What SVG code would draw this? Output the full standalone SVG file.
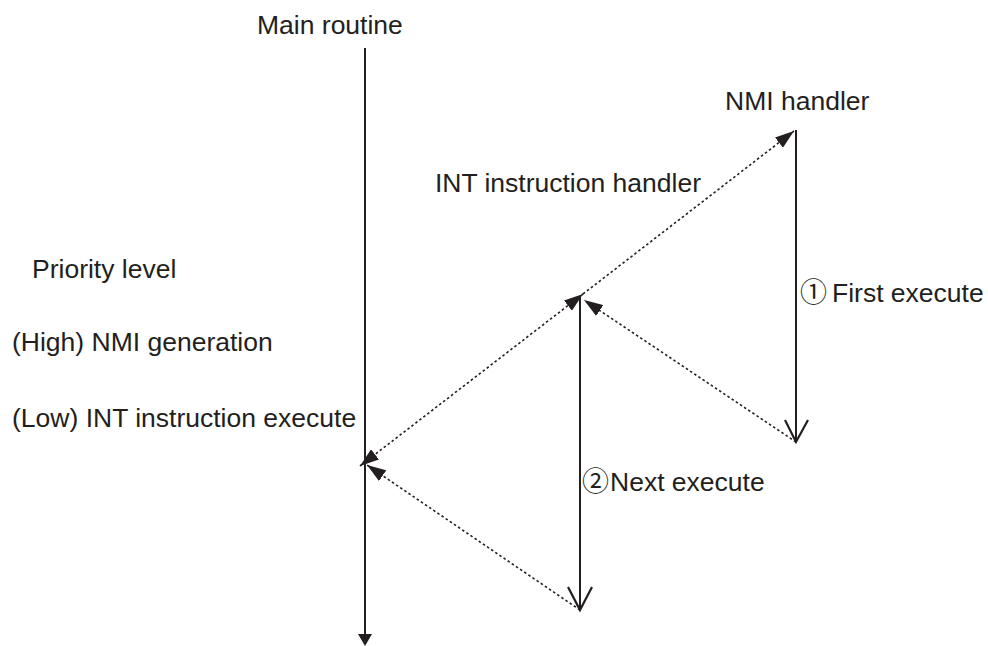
<svg xmlns="http://www.w3.org/2000/svg" width="988" height="646" viewBox="0 0 988 646">
<style>
text{font-family:"Liberation Sans","DejaVu Sans","Noto Sans CJK JP",sans-serif;font-size:26.5px;fill:#231f20}
.cd{font-family:"Noto Sans CJK JP","DejaVu Sans",sans-serif;font-size:27px}
.solid{stroke:#231f20;stroke-width:2;fill:none}
.dot{stroke:#231f20;stroke-width:1.6;fill:none;stroke-dasharray:2.5 2.5}
.vhead{stroke:#231f20;stroke-width:2.2;fill:none;stroke-linejoin:miter}
</style>
<defs>
<marker id="ah" viewBox="0 0 19 13" refX="19" refY="6.5" markerWidth="19" markerHeight="13" markerUnits="userSpaceOnUse" orient="auto-start-reverse">
<path d="M0,0 L19,6.5 L0,13 z" fill="#231f20"/>
</marker>
</defs>
<rect width="988" height="646" fill="#fff"/>
<g id="labels">
<text x="32" y="278">Priority level</text>
<text x="12" y="351">(High) NMI generation</text>
<text x="12" y="427">(Low) INT instruction execute</text>
</g>
<g id="main-routine">
<text x="257" y="34">Main routine</text>
<line class="solid" x1="365" y1="48" x2="365" y2="636" stroke-width="1.6"/>
<path d="M358,634 L372,634 L365,646 z" fill="#231f20"/>
</g>
<g id="int-handler">
<text x="701" y="192" text-anchor="end">INT instruction handler</text>
<line class="solid" x1="580" y1="296" x2="580" y2="610" stroke-width="2.4"/>
<path class="vhead" d="M568,587 L580,610 L592,587"/>
<text y="491"><tspan class="cd" x="582">②</tspan><tspan x="610">Next execute</tspan></text>
</g>
<g id="nmi-handler">
<text x="725" y="110">NMI handler</text>
<line class="solid" x1="796" y1="130" x2="796" y2="442" stroke-width="2.4"/>
<path class="vhead" d="M785,420 L796,442 L808,420"/>
<text y="302"><tspan class="cd" x="800">①</tspan><tspan x="832">First execute</tspan></text>
</g>
<g id="connectors">
<line class="dot" x1="360" y1="466" x2="583" y2="294" marker-start="url(#ah)" marker-end="url(#ah)"/>
<line class="dot" x1="583" y1="294" x2="794" y2="131" marker-end="url(#ah)"/>
<line class="dot" x1="796" y1="442" x2="584" y2="300" marker-end="url(#ah)"/>
<line class="dot" x1="580" y1="610" x2="367" y2="465" marker-end="url(#ah)"/>
</g>
</svg>
